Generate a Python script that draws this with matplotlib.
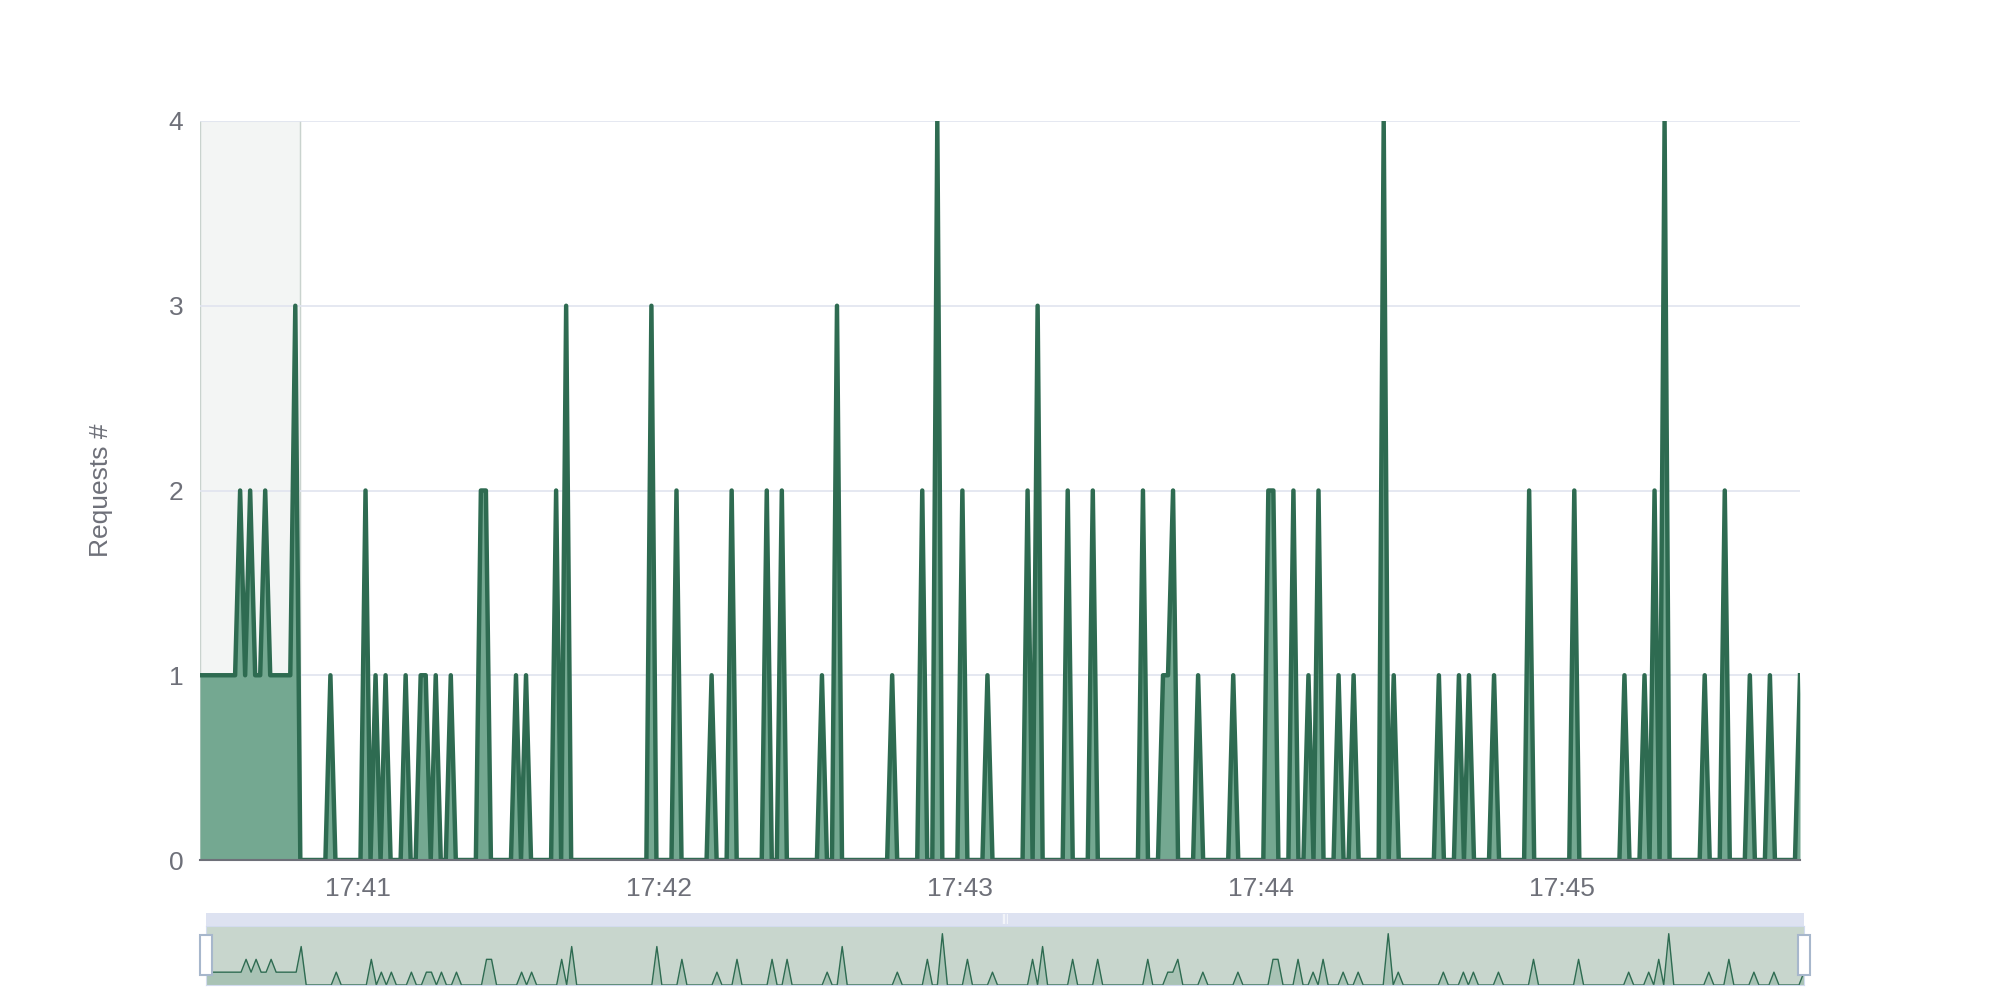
import datetime as dt
import numpy as np
import matplotlib.pyplot as plt
import matplotlib.dates as mdates
from matplotlib.patches import Rectangle

plt.rcParams['font.family'] = ['Liberation Sans', 'DejaVu Sans']

# sample index (1 s steps) -> request count, zero everywhere else
n_samples = 320
start = dt.datetime(2024, 1, 1, 17, 40, 28, 500000)
idx_ones_start = list(range(0, 20))
spike_idx = [8, 10, 13, 19, 26, 33, 35, 37, 41, 44, 45, 47, 50, 56, 57, 63, 65, 71, 73,
             90, 95, 102, 106, 113, 116, 124, 127, 138, 144, 147, 152, 157, 165, 167,
             173, 178, 188, 192, 193, 194, 199, 206, 213, 214, 218, 221, 223, 227, 230,
             236, 238, 247, 251, 253, 258, 265, 274, 284, 288, 290, 292, 300, 304, 309,
             313, 319]
spike_val = [2, 2, 2, 3, 1, 2, 1, 1, 1, 1, 1, 1, 1, 2, 2, 1, 1, 2, 3,
             3, 2, 1, 2, 2, 2, 1, 3, 1, 2, 4, 2, 1, 2, 3,
             2, 2, 2, 1, 1, 2, 1, 1, 2, 2, 2, 1, 2, 1, 1,
             4, 1, 1, 1, 1, 1, 2, 2, 1, 1, 2, 4, 1, 2, 1,
             1, 1]

vals = np.zeros(n_samples)
vals[idx_ones_start] = 1
vals[spike_idx] = spike_val
times = [start + dt.timedelta(seconds=i) for i in range(n_samples)]

line_c = '#2e6b51'
fill_c = '#74a891'
grid_c = '#e0e4ef'
text_c = '#6e7079'

fig = plt.figure(figsize=(20, 10), dpi=100)
ax = fig.add_axes([0.100, 0.140, 0.800, 0.739])
ax.fill_between(times, vals, color=fill_c, lw=0)
ax.plot(times, vals, color=line_c, lw=3.2, solid_joinstyle='round')

# highlighted brush region
ax.axvspan(times[0], times[20], color='#eef2f0', alpha=0.7, zorder=0)
ax.axvline(times[20], color='#c9d3ce', lw=1, zorder=0)
ax.axvline(times[0], color='#c9d3ce', lw=1, zorder=0)

ax.set_xlim(times[0], times[-1])
ax.set_ylim(0, 4)
ax.set_yticks([0, 1, 2, 3, 4])
ax.yaxis.grid(True, color=grid_c, lw=1.2)
ax.set_axisbelow(True)
ax.xaxis.set_major_locator(mdates.MinuteLocator())
ax.xaxis.set_major_formatter(mdates.DateFormatter('%H:%M'))
for s in ['top', 'right', 'left']:
    ax.spines[s].set_visible(False)
ax.spines['bottom'].set_color('#6e7079')
ax.spines['bottom'].set_linewidth(1.5)
ax.tick_params(axis='both', length=0, labelsize=19, colors=text_c, pad=12)
ax.set_ylabel('Requests #', fontsize=19, color=text_c, labelpad=40)

# data zoom slider
sl = fig.add_axes([0.103, 0.015, 0.799, 0.059])
sl.fill_between(times, vals, color='#a9c3b5', lw=0)
sl.plot(times, vals, color=line_c, lw=1)
sl.set_xlim(times[0], times[-1])
sl.set_ylim(0, 4.6)
sl.set_facecolor('#c8d6cd')
sl.set_xticks([])
sl.set_yticks([])
for s in sl.spines.values():
    s.set_color('#d2dbee')
top = fig.add_axes([0.103, 0.074, 0.799, 0.013])
top.set_facecolor('#dde2f1')
top.set_xticks([])
top.set_yticks([])
for s in top.spines.values():
    s.set_visible(False)
top.text(0.5, 0.5, '|||', ha='center', va='center', fontsize=7, color='white', transform=top.transAxes)
for hx in [0.103, 0.902]:
    fig.patches.append(Rectangle((hx - 0.003, 0.025), 0.006, 0.040, transform=fig.transFigure,
                                 facecolor='white', edgecolor='#a7b7cc', lw=1.5))

fig.savefig('out.png')
